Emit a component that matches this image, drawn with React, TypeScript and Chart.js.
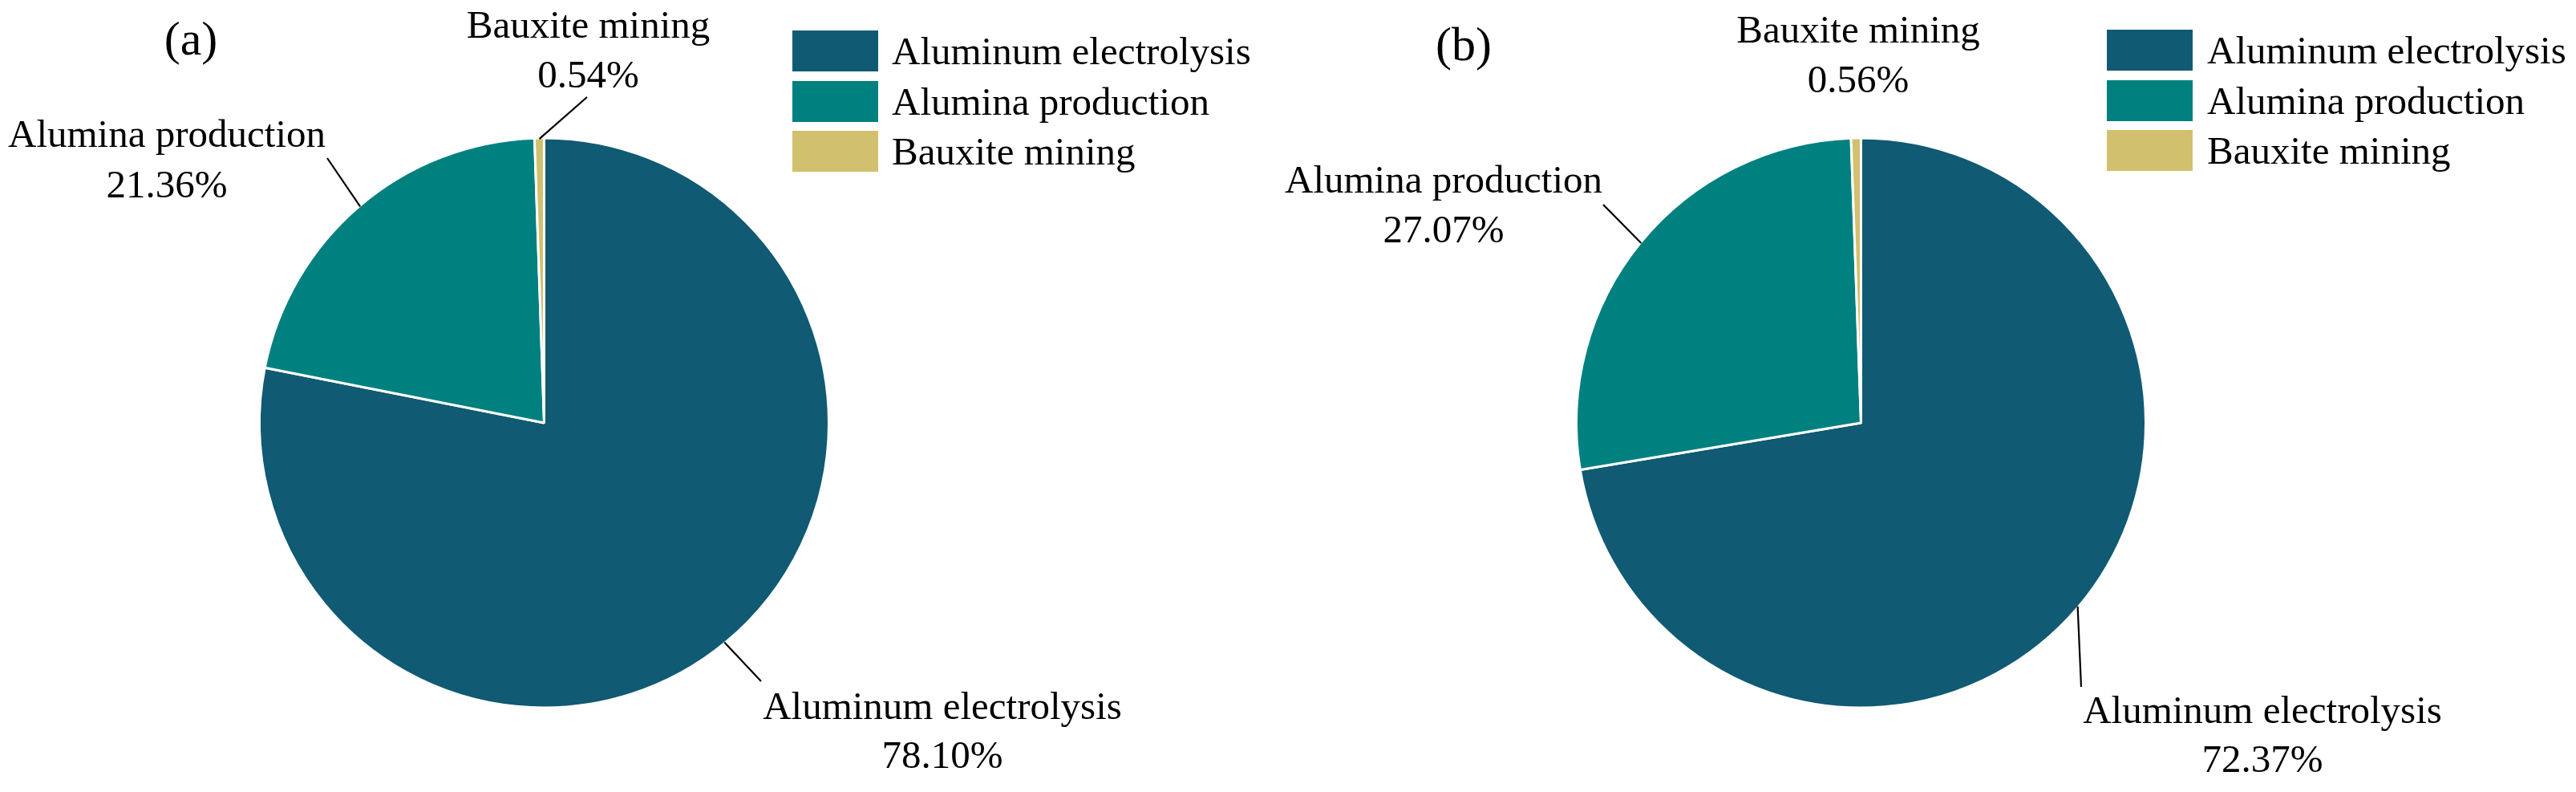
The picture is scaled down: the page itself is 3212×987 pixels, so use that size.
import React, { useEffect, useRef } from "react";
import { Chart, registerables } from "chart.js";

Chart.register(...registerables);

// ---------- data ----------
const categories = ["Aluminum electrolysis", "Alumina production", "Bauxite mining"];
const valuesA = [78.1, 21.36, 0.54];
const valuesB = [72.37, 27.07, 0.56];
const panelTitles = ["(a)", "(b)"];
const sliceColors = ["#105A73", "#018080", "#D1C16E"];

// ---------- layout (page coordinates) ----------
const W = 3212;
const H = 987;
const FONT = '"Liberation Serif", "Times New Roman", Times, serif';
const LABEL_SIZE = 49;
const TITLE_SIZE = 60;

type LabelLayout = { tx: number; y1: number; y2: number; end?: [number, number] };
type PanelLayout = {
  cx: number;
  cy: number;
  r: number;
  title: { x: number; y: number };
  legend: { x: number; tops: number[]; w: number; h: number; textX: number };
  labels: LabelLayout[];
};

const layoutA: PanelLayout = {
  cx: 678.5,
  cy: 527,
  r: 355,
  title: { x: 238, y: 68 },
  legend: { x: 988, tops: [38, 101, 163], w: 107, h: 51, textX: 1112 },
  labels: [
    { tx: 1175, y1: 896, y2: 957, end: [949, 849] },
    { tx: 208, y1: 183, y2: 246, end: [408, 197] },
    { tx: 733.5, y1: 47, y2: 109, end: [732, 121] },
  ],
};

const layoutB: PanelLayout = {
  cx: 2320.5,
  cy: 527,
  r: 355,
  title: { x: 1825, y: 75 },
  legend: { x: 2627, tops: [37, 100, 162], w: 107, h: 51, textX: 2752 },
  labels: [
    { tx: 2821, y1: 901, y2: 962, end: [2595, 856] },
    { tx: 1800, y1: 240, y2: 302, end: [1999, 255] },
    { tx: 2317, y1: 53, y2: 115 },
  ],
};

function makeAnnotations(layout: PanelLayout, title: string) {
  return {
    id: "pieAnnotations",
    afterDraw(chart: any) {
      const ctx: CanvasRenderingContext2D = chart.ctx;
      const meta = chart.getDatasetMeta(0);
      const ds = chart.data.datasets[0];
      const labels: string[] = chart.data.labels;
      ctx.save();
      // title
      ctx.fillStyle = "#000";
      ctx.textAlign = "center";
      ctx.textBaseline = "alphabetic";
      ctx.font = `${TITLE_SIZE}px ${FONT}`;
      ctx.fillText(title, layout.title.x, layout.title.y);

      // leader lines + labels
      ctx.font = `${LABEL_SIZE}px ${FONT}`;
      meta.data.forEach((arc: any, i: number) => {
        const p = arc.getProps(["x", "y", "startAngle", "endAngle", "outerRadius"], true);
        const mid = (p.startAngle + p.endAngle) / 2;
        const rr = p.outerRadius - 1;
        const sx = p.x + Math.cos(mid) * rr;
        const sy = p.y + Math.sin(mid) * rr;
        const L = layout.labels[i];
        if (L.end) {
          ctx.strokeStyle = "#000";
          ctx.lineWidth = 2.2;
          ctx.beginPath();
          ctx.moveTo(sx, sy);
          ctx.lineTo(L.end[0], L.end[1]);
          ctx.stroke();
        }
        ctx.fillStyle = "#000";
        ctx.textAlign = "center";
        ctx.fillText(labels[i], L.tx, L.y1);
        ctx.fillText(`${Number(ds.data[i]).toFixed(2)}%`, L.tx, L.y2);
      });

      // legend
      const lg = layout.legend;
      labels.forEach((lab, i) => {
        ctx.fillStyle = ds.backgroundColor[i];
        ctx.fillRect(lg.x, lg.tops[i], lg.w, lg.h);
        ctx.fillStyle = "#000";
        ctx.textAlign = "left";
        ctx.fillText(lab, lg.textX, lg.tops[i] + 42);
      });
      ctx.restore();
    },
  };
}

function PiePanel({ values, layout, title }: { values: number[]; layout: PanelLayout; title: string }) {
  const ref = useRef<HTMLCanvasElement | null>(null);
  useEffect(() => {
    if (!ref.current) return;
    const half = 400;
    const chart = new Chart(ref.current, {
      type: "pie",
      data: {
        labels: categories,
        datasets: [
          {
            data: values,
            backgroundColor: sliceColors,
            borderColor: "#ffffff",
            borderWidth: 3,
          },
        ],
      },
      options: {
        responsive: false,
        animation: false,
        events: [],
        radius: layout.r,
        layout: {
          padding: {
            left: layout.cx - half,
            right: W - layout.cx - half,
            top: layout.cy - half,
            bottom: H - layout.cy - half,
          },
        },
        plugins: {
          legend: { display: false },
          tooltip: { enabled: false },
          title: { display: false },
        },
      } as any,
      plugins: [makeAnnotations(layout, title)],
    });
    return () => chart.destroy();
  }, []);
  return (
    <canvas
      ref={ref}
      width={W}
      height={H}
      style={{ position: "absolute", left: 0, top: 0, width: W, height: H }}
    />
  );
}

export default function App() {
  return (
    <div
      style={{
        position: "absolute",
        left: 0,
        top: 0,
        width: W,
        height: H,
        background: "#ffffff",
        overflow: "hidden",
      }}
    >
      <PiePanel values={valuesA} layout={layoutA} title={panelTitles[0]} />
      <PiePanel values={valuesB} layout={layoutB} title={panelTitles[1]} />
    </div>
  );
}
